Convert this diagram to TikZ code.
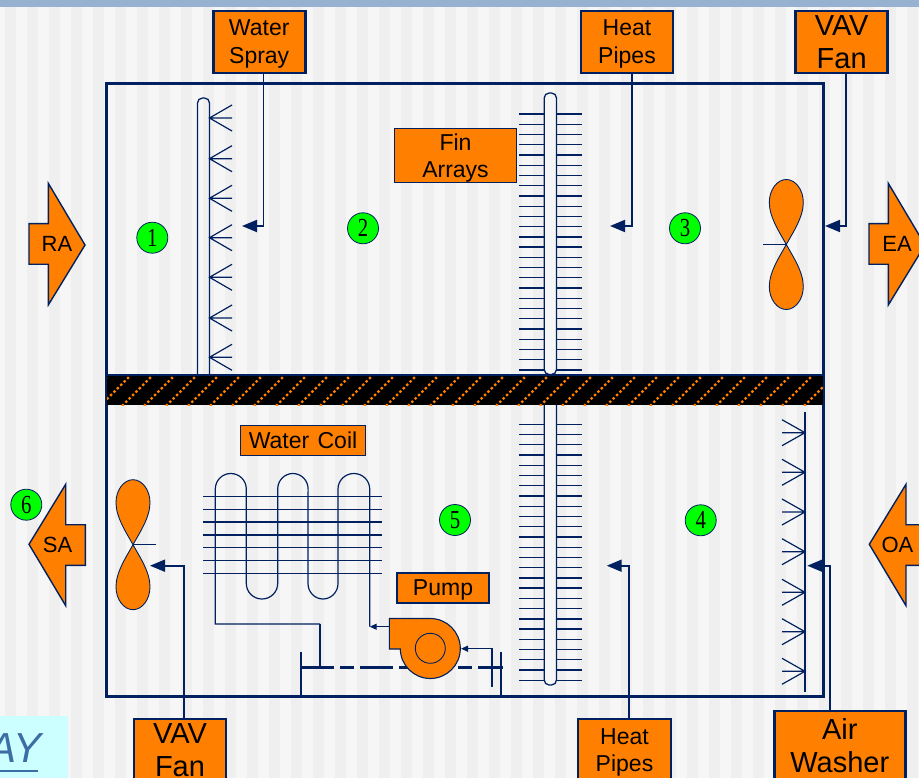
\documentclass[tikz,border=0pt]{standalone}
\usepackage{fontspec}
\setmainfont{Liberation Sans}
\newfontfamily\digitfont[FakeStretch=0.8]{Liberation Serif}
\usetikzlibrary{arrows.meta,calc}
\definecolor{navy}{HTML}{002060}
\definecolor{orng}{HTML}{FF8000}
\definecolor{bglight}{HTML}{F6F6F6}
\definecolor{bgdark}{HTML}{EFEFEF}
\definecolor{band}{HTML}{97B1D0}
\definecolor{ltcyan}{HTML}{CCFFFF}
\definecolor{aycol}{HTML}{3A6EA5}
\tikzset{
  x=1pt,y=-1pt,
  tagbox/.style={draw=navy,line width=2.6pt,fill=orng,text=black,align=center,inner sep=0pt,
    font=\fontsize{23}{28}\selectfont},
  bigtag/.style={tagbox,font=\fontsize{29}{33}\selectfont},
  thintag/.style={tagbox,line width=1.7pt},
  blockarrow/.style={draw=navy,line width=1.4pt,fill=orng,line join=miter},
  blocktext/.style={text=black,font=\fontsize{22}{26}\selectfont,inner sep=0pt},
  zone/.style={circle,draw=navy,line width=0.8pt,fill=green,minimum size=31pt,inner sep=0pt,
    text=black,font=\digitfont\fontsize{26}{26}\selectfont},
  leader/.style={draw=navy,line width=1.8pt,-{Triangle[length=15pt,width=12pt]}},
  fine/.style={draw=navy,line width=1.2pt},
  fin/.style={draw=navy,line width=1.3pt},
  pipe/.style={draw=navy,line width=1.3pt,fill=bglight,rounded corners=5pt},
  bladeshape/.style={draw=navy,line width=0.9pt,fill=orng},
}
\begin{document}
\begin{tikzpicture}
\useasboundingbox (0,0) rectangle (919,778);
\clip (0,0) rectangle (919,778);
% background
\fill[bglight] (0,0) rectangle (919,778);
\foreach \i in {0,...,41}{\fill[bgdark] ({5+22*\i},0) rectangle ({16+22*\i},778);}
\fill[band] (0,0) rectangle (919,7);
% corner label
\begin{scope}
\clip (0,716) rectangle (68,778);
\fill[ltcyan] (0,716) rectangle (68,778);
\node[anchor=base east,inner sep=0pt,text=aycol,font=\fontsize{42}{42}\selectfont\itshape] (ay) at (42,762) {AY};
\fill[aycol] (0,770) rectangle (38,772);
\end{scope}
% casing
\draw[navy,line width=2.6pt] (106.5,83.5) rectangle (823.5,696.5);
% upper spray
\draw[pipe,fill=none] (197.5,380) -- (197.5,98) -- (209.5,98) -- (209.5,380);
\foreach \y in {118,158.7,198.3,237.7,277.3,318,357.3}{
  \draw[fine] (232,\y-13) -- (209.5,\y) -- (232,\y+13) (209.5,\y) -- (232,\y);
}
% heat pipes and fins
\foreach \i in {0,...,25}{
  \draw[fin] (519,{114+10.24*\i}) -- (582,{114+10.24*\i});
  \draw[fin] (519,{424.3+10.24*\i}) -- (582,{424.3+10.24*\i});
}
\draw[pipe] (544.2,93) rectangle (556.5,374.5);
\draw[pipe] (544.2,396) rectangle (556.5,685);
% divider
\begin{scope}
\clip (107,376) rectangle (823,405);
\fill[black] (107,375) rectangle (823,405);
\foreach \i in {-2,...,34}{
  \draw[orng,line width=2.2pt,dash pattern=on 2.4pt off 2.4pt] ({100+22*\i},406) -- ({132+22*\i},374);
}
\end{scope}
\draw[navy,line width=1.6pt] (106.5,375) -- (823.5,375);
% lower spray
\draw[fine] (805,412) -- (805,692);
\foreach \y in {432.7,472.3,512,551.7,592.3,631.7,671.3}{
  \draw[fine] (782,\y-13) -- (805,\y) -- (782,\y+13) (782,\y) -- (805,\y);
}
% fans
\foreach \cx/\cy in {786.3/244.5,133/544.7}{
  \draw[bladeshape] (\cx,\cy) .. controls (\cx-6,\cy-11) and (\cx-17,\cy-27) .. (\cx-17,\cy-42)
     .. controls (\cx-17,\cy-55) and (\cx-9,\cy-65) .. (\cx,\cy-65)
     .. controls (\cx+9,\cy-65) and (\cx+17,\cy-55) .. (\cx+17,\cy-42)
     .. controls (\cx+17,\cy-27) and (\cx+6,\cy-11) .. (\cx,\cy)
     .. controls (\cx+6,\cy+11) and (\cx+17,\cy+27) .. (\cx+17,\cy+42)
     .. controls (\cx+17,\cy+55) and (\cx+9,\cy+65) .. (\cx,\cy+65)
     .. controls (\cx-9,\cy+65) and (\cx-17,\cy+55) .. (\cx-17,\cy+42)
     .. controls (\cx-17,\cy+27) and (\cx-6,\cy+11) .. (\cx,\cy) -- cycle;
}
\draw[fine] (763,244.5) -- (786.3,244.5);
\draw[fine] (133,544.7) -- (156,544.7);
% coil fins
\foreach \y in {496.3,509.3,522,535,547.7,560.7,573.7}{
  \draw[fin] (203,\y) -- (382.3,\y);
}
% serpentine
\coordinate (coilend) at (369.7,626.7);
\coordinate (coiltee) at (320,624);
\coordinate (tankL) at (301,667.3);
\coordinate (tankR) at (502.5,667.3);
\draw[fine] (coiltee) -- (215.3,624) -- (215.3,489)
  arc[start angle=180,end angle=360,x radius=15.5,y radius=15.5] -- (246.3,583.5)
  arc[start angle=180,end angle=0,x radius=15.7,y radius=15.5] -- (277.7,489)
  arc[start angle=180,end angle=360,x radius=15.2,y radius=15.5] -- (308,583.5)
  arc[start angle=180,end angle=0,x radius=15,y radius=15.5] -- (338,489)
  arc[start angle=180,end angle=360,x radius=15.85,y radius=15.5] -- (coilend);
% water tank
\draw[fine] (301,651.7) -- (301,697);
\draw[fine] (501,651.7) -- (501,697);
\draw[navy,line width=3.2pt,dash pattern=on 33pt off 6pt on 14pt off 6pt] (tankL) -- (tankR);
\draw[navy,line width=1.6pt] (coiltee) -- (coiltee |- tankL);
% pump
\coordinate (pumpc) at (430.3,648.3);
\coordinate (pumpout) at (389.3,626.7);
\coordinate (pumpin) at (461,648.7);
\coordinate (intake) at (492,686.7);
\draw[bladeshape,line width=1.1pt] (389.3,618.5) -- (430.3,618.5)
  arc[start angle=-90,end angle=180,radius=30] -- (400.3,649) -- (389.3,649) -- cycle;
\node[circle,draw=navy,line width=0.9pt,minimum size=30pt,inner sep=0pt] (impeller) at (pumpc) {};
\draw[draw=navy,line width=1.2pt,-{Triangle[length=7pt,width=6pt]}] (pumpout) -- (coilend);
\draw[draw=navy,line width=1.2pt,-{Triangle[length=7pt,width=6pt]}] (intake) -- (intake |- pumpin) -- (pumpin);
% labels
\node[tagbox,minimum width=92pt,minimum height=62pt] (waterspray) at (259.2,42) {\rule{0pt}{19.5pt}Water\\Spray};
\node[tagbox,minimum width=92pt,minimum height=62pt] (heattop) at (627,42) {\rule{0pt}{19.5pt}Heat\\Pipes};
\node[bigtag,minimum width=92pt,minimum height=62pt] (vavtop) at (841.7,42) {VAV\\Fan};
\node[thintag,minimum width=122pt,minimum height=54pt] (finarrays) at (455.5,155.5) {\rule{0pt}{22.5pt}Fin\\[-1pt]Arrays};
\node[thintag,minimum width=125pt,minimum height=30pt] (watercoil) at (303,440.5) {Water\hspace{2pt} Coil};
\node[thintag,minimum width=92pt,minimum height=30pt] (pump) at (443,588) {\rule{0pt}{20pt}Pump};
\node[bigtag,minimum width=92pt,minimum height=62pt] (vavbot) at (180,750) {VAV\\Fan};
\node[tagbox,minimum width=93pt,minimum height=62pt] (heatbot) at (624.5,750) {\rule{0pt}{21.5pt}Heat\\[-1pt]Pipes};
\node[bigtag,minimum width=131pt,minimum height=70pt] (airwasher) at (839.8,746) {Air\\Washer};
% leaders
\coordinate (wsbend) at (263.5,226); \coordinate (wsend) at (242,226);
\coordinate (htbend) at (632,226); \coordinate (htend) at (610,226);
\coordinate (vtbend) at (846.3,226); \coordinate (vtend) at (825,226);
\coordinate (vbbend) at (184.3,565.7); \coordinate (vbend) at (150,565.7);
\coordinate (hbbend) at (629,565.7); \coordinate (hbend) at (606.7,565.7);
\coordinate (awbend) at (829.7,565.7); \coordinate (awend) at (807.3,565.7);
\draw[leader] (waterspray.south -| wsbend) -- (wsbend) -- (wsend);
\draw[leader] (heattop.south -| htbend) -- (htbend) -- (htend);
\draw[leader] (vavtop.south -| vtbend) -- (vtbend) -- (vtend);
\draw[leader] (vavbot.north -| vbbend) -- (vbbend) -- (vbend);
\draw[leader] (heatbot.north -| hbbend) -- (hbbend) -- (hbend);
\draw[leader] (airwasher.north -| awbend) -- (awbend) -- (awend);
% block arrows
\draw[blockarrow] (29,223.7) -- (48.3,223.7) -- (48.3,183.3) -- (85,245) -- (48.3,305) -- (48.3,264.3) -- (29,264.3) -- cycle;
\node[blocktext] (ra) at (57,243.5) {RA};
\draw[blockarrow] (869,223.7) -- (888.3,223.7) -- (888.3,183.3) -- (925,245) -- (888.3,305) -- (888.3,264.3) -- (869,264.3) -- cycle;
\node[blocktext] (ea) at (897,243.5) {EA};
\draw[blockarrow] (85.3,524.7) -- (65.7,524.7) -- (65.7,484.3) -- (29,544.3) -- (65.7,605.7) -- (65.7,565.3) -- (85.3,565.3) -- cycle;
\node[blocktext] (sa) at (57.5,544.5) {SA};
\draw[blockarrow] (925,524.7) -- (906,524.7) -- (906,484.3) -- (869.3,544.3) -- (906,605.7) -- (906,565.3) -- (925,565.3) -- cycle;
\node[blocktext] (oa) at (897.5,544.5) {OA};
% zones
\node[zone] (z1) at (152.3,237.7) {1};
\node[zone] (z2) at (363,228.3) {2};
\node[zone] (z3) at (685,228.3) {3};
\node[zone] (z4) at (700.7,520.3) {4};
\node[zone] (z5) at (455,520) {5};
\node[zone] (z6) at (26.3,504.7) {6};
\end{tikzpicture}
\end{document}
